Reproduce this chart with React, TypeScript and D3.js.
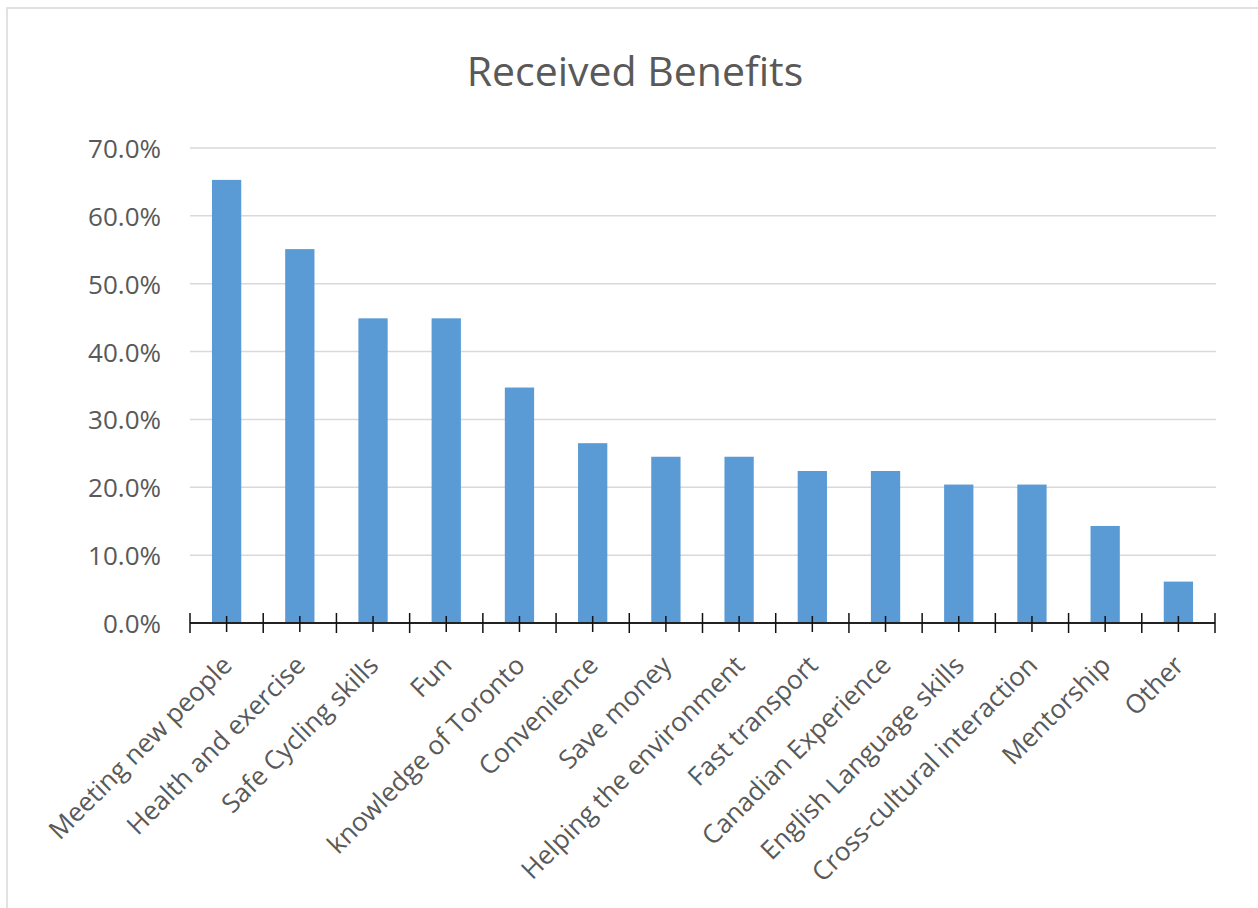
import React from "react";
import * as d3 from "d3";

const categories = [
  "Meeting new people",
  "Health and exercise",
  "Safe Cycling skills",
  "Fun",
  "knowledge of Toronto",
  "Convenience",
  "Save money",
  "Helping the environment",
  "Fast transport",
  "Canadian Experience",
  "English Language skills",
  "Cross-cultural interaction",
  "Mentorship",
  "Other",
];
const values = [0.653, 0.551, 0.449, 0.449, 0.347, 0.265, 0.245, 0.245, 0.224, 0.224, 0.204, 0.204, 0.143, 0.061];
const yTicks = [0, 0.1, 0.2, 0.3, 0.4, 0.5, 0.6, 0.7];
const title = "Received Benefits";

const W = 1258;
const H = 908;
const plot = { left: 190, right: 1215, top: 148, bottom: 623 };
const textColor = "#595959";
const barColor = "#5B9BD5";
const gridColor = "#D9D9D9";
const font = "'Open Sans', 'Noto Sans', sans-serif";

export default function App() {
  const x = d3
    .scaleBand<string>()
    .domain(categories)
    .range([plot.left, plot.right])
    .paddingInner(0.6)
    .paddingOuter(0.3);
  const y = d3.scaleLinear().domain([0, 0.7]).range([plot.bottom, plot.top]);
  const step = x.step();
  const fmt = d3.format(".1%");
  const bounds = d3.range(categories.length + 1).map((i) => plot.left + i * step);

  return (
    <svg
      width={W}
      height={H}
      style={{ position: "absolute", left: 0, top: 0, background: "#fff" }}
      fontFamily={font}
    >
      <rect x={7} y={8} width={W + 20} height={H + 20} fill="#fff" stroke={gridColor} strokeWidth={1.5} />
      <text x={635} y={86} textAnchor="middle" fontSize={41} fill={textColor}>
        {title}
      </text>
      {yTicks.map((t) => (
        <g key={t}>
          {t > 0 && (
            <line x1={plot.left} x2={plot.right + 1} y1={y(t)} y2={y(t)} stroke={gridColor} strokeWidth={1.5} />
          )}
          <text x={161} y={y(t) + 10} textAnchor="end" fontSize={26} fill={textColor}>
            {fmt(t)}
          </text>
        </g>
      ))}
      {categories.map((c, i) => (
        <rect
          key={c}
          x={x(c)}
          y={y(values[i])}
          width={x.bandwidth()}
          height={y(0) - y(values[i])}
          fill={barColor}
        />
      ))}
      <line x1={plot.left} x2={plot.right} y1={plot.bottom} y2={plot.bottom} stroke="#222" strokeWidth={2} />
      {bounds.map((b, i) => (
        <line key={"b" + i} x1={b} x2={b} y1={plot.bottom - 10} y2={plot.bottom + 10} stroke="#111" strokeWidth={1.5} />
      ))}
      {categories.map((c) => {
        const cx = (x(c) as number) + x.bandwidth() / 2;
        return (
          <line key={"m" + c} x1={cx} x2={cx} y1={plot.bottom - 7} y2={plot.bottom + 9} stroke="#111" strokeWidth={1.5} />
        );
      })}
      {categories.map((c) => {
        const cx = (x(c) as number) + x.bandwidth() / 2;
        const px = cx + 7;
        const py = plot.bottom + 44;
        return (
          <text
            key={"l" + c}
            x={px}
            y={py}
            textAnchor="end"
            fontSize={26}
            fill={textColor}
            transform={`rotate(-45 ${px} ${py})`}
          >
            {c}
          </text>
        );
      })}
    </svg>
  );
}
